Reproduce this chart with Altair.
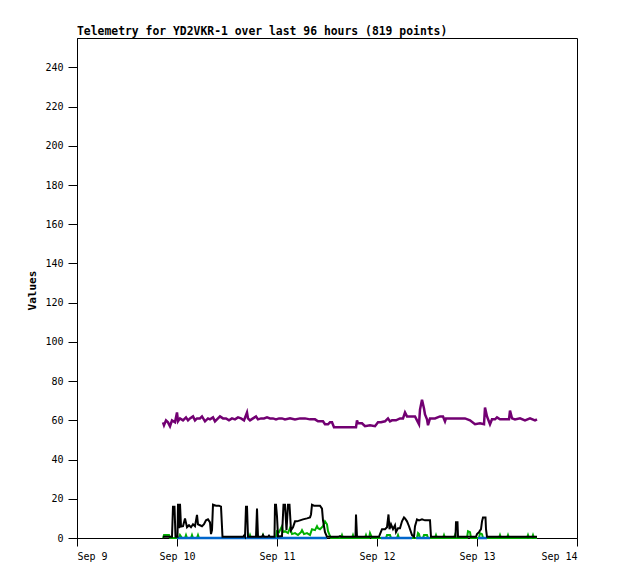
import altair as alt
import pandas as pd

# x in days since Sep 9 00:00
purple_x = [.86,.87,.89,.91,.93,.95,.98,1.00,1.01,1.03,1.06,1.09,1.11,1.13,1.16,1.18,1.20,1.23,1.25,1.28,
            1.31,1.33,1.36,1.38,1.41,1.43,1.46,1.49,1.52,1.55,1.58,1.61,1.64,1.67,1.70,1.71,1.73,1.76,1.79,1.81,
            1.84,1.87,1.90,1.93,1.96,1.99,2.02,2.05,2.08,2.13,2.18,2.23,2.28,2.33,2.38,2.41,2.46,2.48,2.51,2.53,
            2.55,2.57,2.60,2.68,2.75,2.79,2.80,2.81,2.85,2.88,2.93,2.98,3.01,3.04,3.08,3.11,3.13,3.15,3.19,3.23,
            3.26,3.28,3.30,3.34,3.38,3.40,3.42,3.43,3.45,3.47,3.48,3.50,3.51,3.53,3.58,3.63,3.66,3.68,3.69,3.73,
            3.78,3.83,3.88,3.93,3.98,4.03,4.07,4.08,4.10,4.13,4.15,4.18,4.20,4.23,4.28,4.32,4.33,4.35,4.38,4.43,
            4.48,4.53,4.58,4.60]
purple_y = [59,57.5,60,59,57,60,59,64,59.5,61,60,61.5,60,61,62,60,61,61,62,59.5,
            61,60.5,61.5,59.5,61,62,61,61,60,61,60.5,61.5,61,60,64,61,60,61,62,60.5,
            61,61,61.5,61,61,60.5,61,61,60.5,61,60.5,61,61,60.5,60.5,59.5,59.5,58,58,59,
            59,56.5,56.5,56.5,56.5,56.5,60,58.5,58.5,57,57.5,57,59,59,59.5,61,59.5,60,60,61,
            61,64,62,62,62,60,58,65.5,70.5,66,63,60.5,57.5,61,61,62,62,59.5,61,61,
            61,61,61,60,58,58.5,58,66.5,62,58,60.5,60.5,61.5,60.5,60.5,60.5,65,61,60.5,61,
            60,61,60,60.5]

black_x = [.86,.95,.96,.975,.985,1.005,1.01,1.02,1.03,1.04,1.06,1.08,1.10,1.12,1.14,1.16,1.18,1.20,1.21,1.23,
           1.25,1.27,1.29,1.31,1.33,1.34,1.35,1.36,1.39,1.42,1.44,1.455,1.66,1.67,1.68,1.69,1.70,1.71,1.79,1.80,
           1.81,1.85,1.86,1.87,1.91,1.92,1.93,1.975,1.98,1.99,2.00,2.01,2.05,2.065,2.08,2.095,2.11,2.125,2.14,2.16,
           2.18,2.20,2.23,2.26,2.30,2.33,2.34,2.35,2.37,2.41,2.43,2.45,2.46,2.48,2.50,2.61,2.63,2.64,2.785,2.79,
           2.80,3.02,3.03,3.05,3.08,3.10,3.115,3.125,3.14,3.16,3.18,3.19,3.21,3.23,3.25,3.27,3.28,3.30,3.32,3.35,
           3.37,3.38,3.40,3.42,3.45,3.48,3.51,3.53,3.54,3.785,3.79,3.805,3.81,3.99,4.00,4.02,4.04,4.05,4.06,4.085,
           4.09,4.10,4.60]
black_y = [.6,.6,16,16,.6,.6,17.4,5,17.4,5.8,6,10,5.5,6.5,5.5,7,6,11.8,7,6.5,
           6,7,9,9.5,8,2,4,17,16.5,16.5,16,.6,.6,1.2,.6,16,16,.6,.6,15,
           .6,.6,1.5,.6,.6,1.2,.6,.6,17,17,11,.8,1,17,17,4,17,17,4,5.5,
           8.5,8.5,9,9.5,10,10.5,12,17,16.5,16.5,16.5,15,9,3,.6,.6,1,.6,.6,12,
           .6,.6,2,4.5,4.5,5.5,12,4.5,7,4.5,6.5,3,5,5,8.5,10.5,10,8.5,6,1.5,
           .6,6,9.5,9,9.5,9,9,9,.6,.6,8,8,.6,.6,2,3,4.5,8.5,10.5,10.5,
           4.5,.6,.6]

green_x = [.86,.87,.92,.93,1.02,1.03,1.05,1.08,1.09,1.10,1.14,1.15,1.16,1.20,1.21,1.22,1.72,1.73,1.74,1.85,
           1.86,1.87,1.99,2.00,2.02,2.05,2.06,2.08,2.11,2.13,2.15,2.18,2.21,2.24,2.25,2.27,2.30,2.33,2.35,2.38,
           2.40,2.41,2.43,2.46,2.48,2.50,2.51,2.53,2.54,2.64,2.65,2.66,2.75,2.76,2.77,2.88,2.89,2.90,2.92,2.93,
           2.95,3.09,3.10,3.13,3.14,3.20,3.21,3.22,3.40,3.41,3.42,3.43,3.46,3.47,3.50,3.51,3.58,3.59,3.60,3.66,
           3.67,3.68,3.77,3.78,3.79,3.90,3.91,3.93,3.94,4.02,4.03,4.05,4.06,4.22,4.23,4.24,4.30,4.31,4.32,4.50,
           4.51,4.52,4.55,4.56,4.57,4.60]
green_y = [0,1.5,1.5,0,0,1.5,0,0,1.5,0,0,1.5,0,0,1.5,0,0,1.5,0,0,
           1.5,0,0,3.5,3,6,3,3.5,2.5,5,2,2.5,1.5,3,4,2,2.5,1.5,4.5,4,
           6,5,4.5,6,8.5,7,3.5,1,0,0,1.5,0,0,1.5,0,0,1.5,0,0,2.5,
           0,0,1.5,1.5,0,0,1.5,0,0,2.5,2,0,0,1.5,1.5,0,0,1.5,0,0,
           1.5,0,0,1.5,0,0,3.5,3,0,0,2.5,2,0,0,1.5,0,0,1.5,0,0,
           1.5,0,0,1.5,0,0]

blue_segments = [(1.00, 2.50), (3.04, 3.35), (3.39, 3.53), (4.01, 4.10)]

tick_days = [0, 1, 2, 3, 4, 5]
y_ticks = list(range(0, 241, 20))

MONO = "DejaVu Sans Mono"

purple_df = pd.DataFrame({"x": purple_x, "y": purple_y})
black_df = pd.DataFrame({"x": black_x, "y": black_y})
green_df = pd.DataFrame({"x": green_x, "y": green_y})
blue_rows = []
for i, (a, b) in enumerate(blue_segments):
    blue_rows.append({"x": a, "y": 0, "seg": i})
    blue_rows.append({"x": b, "y": 0, "seg": i})
blue_df = pd.DataFrame(blue_rows)

xs = alt.Scale(domain=[0, 5], nice=False, zero=False)
ys = alt.Scale(domain=[0, 255], nice=False, zero=True)

x_enc = alt.X("x:Q", scale=xs, axis=alt.Axis(
    values=tick_days, labelExpr="'Sep ' + (9 + datum.value)", title=None,
    tickSize=8, labelPadding=5, grid=False, labelFont=MONO, labelFontSize=10,
    labelColor="black", tickColor="black", domainColor="black"))
y_enc = alt.Y("y:Q", scale=ys, axis=alt.Axis(
    values=y_ticks, title="Values", tickSize=9, labelPadding=5, grid=False,
    labelFont=MONO, labelFontSize=10, labelColor="black", tickColor="black", domainColor="black",
    titleFont=MONO, titleFontSize=11, titleFontWeight="bold", titleColor="black",
    titleAngle=270, titleX=-45, titleY=252, titleAlign="center", titleBaseline="middle"))

green = alt.Chart(green_df).mark_line(color="#00b000", strokeWidth=2).encode(x=x_enc, y=y_enc)
blue = alt.Chart(blue_df).mark_line(color="#0066cc", strokeWidth=2.5).encode(x=x_enc, y=y_enc, detail="seg:N")
black = alt.Chart(black_df).mark_line(color="#000000", strokeWidth=2).encode(x=x_enc, y=y_enc)
purple = alt.Chart(purple_df).mark_line(color="#720072", strokeWidth=2.5).encode(x=x_enc, y=y_enc)

chart = alt.layer(green, blue, black, purple).properties(
    width=500, height=500,
    background="white",
    title=alt.TitleParams("Telemetry for YD2VKR-1 over last 96 hours (819 points)",
                          anchor="start", frame="group", font=MONO,
                          fontSize=11.4, fontWeight="bold", baseline="alphabetic",
                          offset=3, dy=11, color="black"),
    autosize=alt.AutoSizeParams(type="none"),
    padding={"left": 69, "top": 30, "right": 33, "bottom": 33},
).configure_view(stroke="black", strokeWidth=1)

chart.save("out.html", embed_options={"renderer": "svg", "actions": False})
